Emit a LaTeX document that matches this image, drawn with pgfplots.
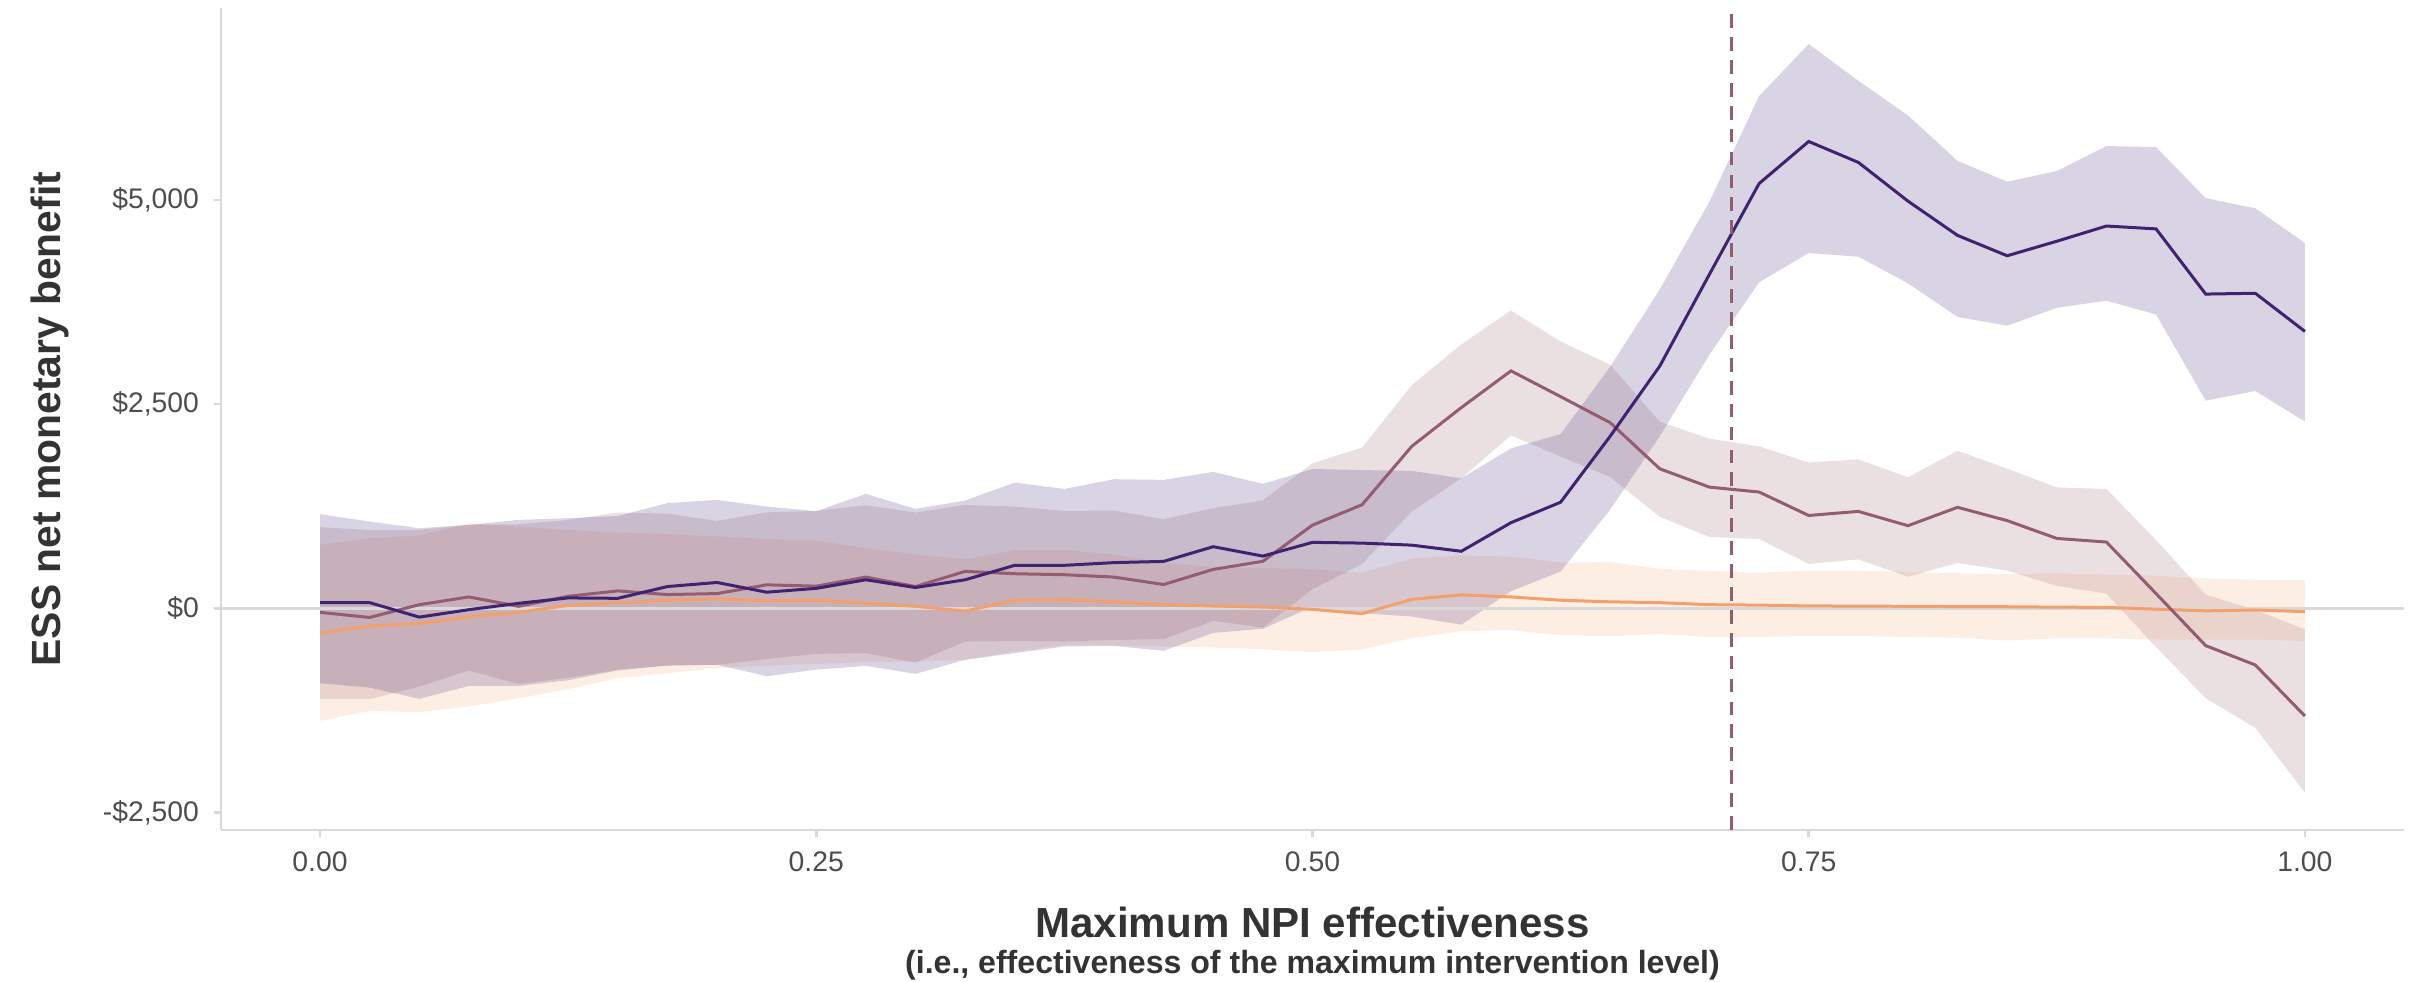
\documentclass[border=0pt]{standalone}
\usepackage{fontspec}
\setmainfont{Liberation Sans}
\usepackage{pgfplots}
\usepackage{pgfplotstable}
\pgfplotsset{compat=1.18}
\usepgfplotslibrary{fillbetween}
\definecolor{cpur}{RGB}{63,35,112}
\definecolor{cmau}{RGB}{148,92,112}
\definecolor{cora}{RGB}{243,160,108}
\definecolor{fpur}{RGB}{65,40,115}
\definecolor{fmau}{RGB}{150,100,110}
\definecolor{fora}{RGB}{247,172,122}
\definecolor{cgrid}{RGB}{217,217,217}
\definecolor{ctick}{RGB}{77,77,77}
\definecolor{ctitle}{RGB}{51,51,51}

\pgfplotstableread{
x     pm    pl     pu    mm     ml     mu    om    ol     ou
0.000 70    -916   1153  -49    -1112  994   -300  -1377  777
0.025 70    -970   1063  -111   -1112  960   -214  -1255  859
0.050 -107  -1108  981   45     -957   960   -185  -1271  891
0.075 -16   -950   1022  140    -760   1022  -103  -1201  1043
0.100 62    -950   1083  25     -926   1030  -49   -1100  1000
0.125 128   -880   1104  148    -850   1083  37    -990   960
0.150 123   -760   1130  214    -750   1173  70    -855   928
0.175 267   -700   1288  169    -700   1160  99    -794   910
0.200 317   -690   1328  181    -690   1070  119   -732   880
0.225 198   -830   1246  288    -620   1175  91    -700   850
0.250 245   -750   1190  272    -557   1193  100   -680   830
0.275 350   -704   1401  383    -549   1263  62    -660   737
0.300 255   -802   1218  267    -663   1173  25    -650   660
0.325 350   -630   1320  453    -406   1267  -33   -630   600
0.350 527   -548   1540  424    -400   1246  99    -528   710
0.375 527   -467   1462  412    -406   1193  107   -447   715
0.400 560   -460   1581  383    -386   1197  78    -455   660
0.425 575   -520   1573  292    -377   1092  45    -467   560
0.450 755   -300   1671  477    -152   1227  29    -479   506
0.475 640   -250   1524  576    -235   1320  16    -500   494
0.500 808   20     1706  1019   235    1777  -12   -535   480
0.525 799   -60    1693  1269   544    1968  -65   -505   435
0.550 774   -100   1683  1983   1184   2732  110   -365   609
0.575 699   -200   1593  2458   1593   3232  165   -280   649
0.600 1049  210    1958  2907   2118   3646  140   -265   634
0.625 1299  450    2133  2592   1858   3267  100   -330   559
0.650 2108  1209   2957  2273   1608   2982  80    -340   569
0.675 2967  2108   3906  1708   1119   2283  70    -315   485
0.700 4090  3107   4980  1484   874    2078  45    -350   460
0.725 5200  3991   6270  1424   849    1983  40    -350   435
0.750 5715  4350   6908  1137   544    1786  30    -337   462
0.775 5459  4304   6458  1187   600    1824  28    -337   462
0.800 4985  3979   6034  1012   387    1605  25    -350   443
0.825 4565  3567   5478  1237   556    1930  22    -360   431
0.850 4316  3460   5222  1074   462    1711  20    -393   418
0.875 4494  3679   5353  856    275    1480  15    -368   431
0.900 4680  3766   5659  812    181    1462  12    -368   412
0.925 4645  3598   5646  181    -475   837   -10   -381   400
0.950 3847  2542   5022  -456   -1099  169   -30   -381   368
0.975 3857  2661   4897  -693   -1462  -19   -20   -381   350
1.000 3390  2286   4472  -1318  -2255  -256  -40   -400   350
}\datatab

\begin{document}
\begin{tikzpicture}
\begin{axis}[
  at={(0pt,0pt)}, anchor=south west,
  width=524.1pt, height=197.3pt, scale only axis,
  xmin=-0.05, xmax=1.05, ymin=-2711, ymax=7350,
  axis x line*=bottom, axis y line*=left,
  axis line style={draw=cgrid, line width=0.6pt, -},
  xtick={0,0.25,0.5,0.75,1},
  xticklabels={0.00,0.25,0.50,0.75,1.00},
  ytick={-2500,0,2500,5000},
  yticklabels={{-\$2,500},{\$0},{\$2,500},{\$5,000}},
  tick align=outside, major tick length=1.7pt,
  tick style={draw=cgrid, line width=0.6pt},
  tick label style={font=\fontsize{6.8}{8}\selectfont, text=ctick},
]
\addplot[cgrid, line width=0.6pt, forget plot] coordinates {(-0.05,0) (1.05,0)};

\addplot[name path=oU, draw=none, forget plot] table[x=x,y=ou]{\datatab};
\addplot[name path=oL, draw=none, forget plot] table[x=x,y=ol]{\datatab};
\addplot[fill=fora, fill opacity=0.2, draw=none, forget plot] fill between[of=oU and oL];

\addplot[name path=mU, draw=none, forget plot] table[x=x,y=mu]{\datatab};
\addplot[name path=mL, draw=none, forget plot] table[x=x,y=ml]{\datatab};
\addplot[fill=fmau, fill opacity=0.2, draw=none, forget plot] fill between[of=mU and mL];

\addplot[name path=pU, draw=none, forget plot] table[x=x,y=pu]{\datatab};
\addplot[name path=pL, draw=none, forget plot] table[x=x,y=pl]{\datatab};
\addplot[fill=fpur, fill opacity=0.2, draw=none, forget plot] fill between[of=pU and pL];

\addplot[cora, line width=0.72pt, no markers] table[x=x,y=om]{\datatab};
\addplot[cmau, line width=0.72pt, no markers] table[x=x,y=mm]{\datatab};
\addplot[cpur, line width=0.72pt, no markers] table[x=x,y=pm]{\datatab};

\addplot[cmau, line width=0.7pt, dash pattern=on 3.3pt off 2.2pt] coordinates {(0.711,-2711) (0.711,7350)};
\end{axis}
\node[rotate=90, font=\bfseries\fontsize{9.8}{11}\selectfont, text=ctitle] at (-41pt,98.6pt) {ESS net monetary benefit};
\node[font=\bfseries\fontsize{10.1}{11}\selectfont, text=ctitle] at (262.05pt,-22.3pt) {Maximum NPI effectiveness};
\node[font=\bfseries\fontsize{7.7}{9}\selectfont, text=ctitle] at (262.05pt,-32.6pt) {(i.e., effectiveness of the maximum intervention level)};
\pgfresetboundingbox
\useasboundingbox (-53pt,-36.5pt) rectangle (529.1pt,199.2pt);
\end{tikzpicture}
\end{document}
